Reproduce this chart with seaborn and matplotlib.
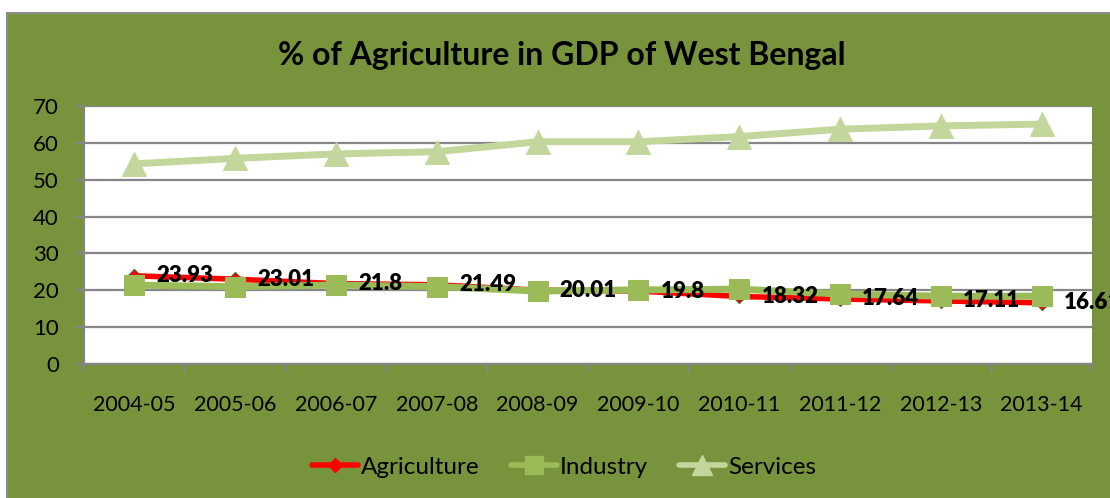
import matplotlib
matplotlib.use("Agg")
import matplotlib.pyplot as plt
from matplotlib.patches import Rectangle
from matplotlib.lines import Line2D
import seaborn as sns
import pandas as pd

years = ["2004-05", "2005-06", "2006-07", "2007-08", "2008-09",
         "2009-10", "2010-11", "2011-12", "2012-13", "2013-14"]
agriculture = [23.93, 23.01, 21.8, 21.49, 20.01, 19.8, 18.32, 17.64, 17.11, 16.61]
industry = [21.4, 21.0, 21.4, 21.0, 19.8, 20.1, 20.3, 19.0, 18.4, 18.4]
services = [54.3, 55.8, 57.0, 57.6, 60.3, 60.3, 61.7, 63.7, 64.6, 65.1]

title = "% of Agriculture in GDP of West Bengal"
series_names = ["Agriculture", "Industry", "Services"]

sns.set_theme(style="white")
plt.rcParams["font.family"] = ["Lato", "DejaVu Sans"]

OLIVE = "#77933C"
RED = "#FF0000"
GREEN = "#9BBB59"
LIGHT = "#C3D69B"
GRID = "#868686"

fig = plt.figure(figsize=(11.10, 4.98), dpi=100, facecolor="white")

# chart frame
fig.patches.append(Rectangle((7 / 1110, -0.1), 1.2, 1 - 13 / 498 + 0.1,
                             transform=fig.transFigure, facecolor=OLIVE,
                             edgecolor="#8C8C8C", linewidth=1.5, zorder=-10))

ax = fig.add_axes([84 / 1110, 1 - 364 / 498, 1008 / 1110, 258 / 498])
ax.set_zorder(1)
ax.set_facecolor("white")

df = pd.DataFrame({"year": years, "Agriculture": agriculture,
                   "Industry": industry, "Services": services})
xpos = list(range(len(years)))

sns.lineplot(x=xpos, y=df["Agriculture"], ax=ax, color=RED, linewidth=4,
             marker="D", markersize=7, markerfacecolor=RED,
             markeredgecolor="#4F6228", markeredgewidth=0.8, zorder=3)
sns.lineplot(x=xpos, y=df["Industry"], ax=ax, color=GREEN, linewidth=5,
             marker="s", markersize=15, markerfacecolor=GREEN,
             markeredgecolor=GREEN, zorder=4)
sns.lineplot(x=xpos, y=df["Services"], ax=ax, color=LIGHT, linewidth=5,
             marker="^", markersize=17, markerfacecolor=LIGHT,
             markeredgecolor=LIGHT, zorder=4)

for x, v in zip(xpos, agriculture):
    ax.annotate(f"{v:g}", (x, v), xytext=(16, 0), textcoords="offset points",
                ha="left", va="center", fontsize=16, fontweight="heavy",
                color="black", zorder=6, annotation_clip=False)

ax.set_xlim(-0.5, len(years) - 0.5)
ax.set_ylim(0, 70)
ax.set_yticks(range(0, 71, 10))
ax.set_xticks(xpos)
ax.set_xticklabels(years)
ax.set_xticks([i - 0.5 for i in range(len(years) + 1)], minor=True)
ax.grid(axis="y", color=GRID, linewidth=1.6, zorder=1)
ax.set_axisbelow(True)
ax.set_xlabel("")
ax.set_ylabel("")

for side in ["top", "right"]:
    ax.spines[side].set_visible(False)
for side in ["left", "bottom"]:
    ax.spines[side].set_visible(True)
    ax.spines[side].set_color(GRID)
    ax.spines[side].set_linewidth(1.6)

ax.tick_params(axis="y", which="major", left=True, length=6, width=1.6,
               color=GRID, pad=12, labelsize=16, labelcolor="black")
ax.tick_params(axis="x", which="major", bottom=False, length=0, pad=22,
               labelsize=15.5, labelcolor="black")
ax.tick_params(axis="x", which="minor", bottom=True, length=6, width=1.6,
               color=GRID)

fig.text(562 / 1110, 1 - 55 / 498, title, ha="center", va="center",
         fontsize=23, fontweight="bold", color="black")

handles = [
    Line2D([], [], color=RED, linewidth=4, marker="D", markersize=7,
           markerfacecolor=RED, markeredgecolor=RED),
    Line2D([], [], color=GREEN, linewidth=4, marker="s", markersize=13,
           markerfacecolor=GREEN, markeredgecolor=GREEN),
    Line2D([], [], color=LIGHT, linewidth=4, marker="^", markersize=14,
           markerfacecolor=LIGHT, markeredgecolor=LIGHT),
]
leg = fig.legend(handles, series_names, loc="center",
                 bbox_to_anchor=(0.508, 1 - 467 / 498), ncol=3, frameon=False,
                 fontsize=17.5, handlelength=1.9, handletextpad=0.1,
                 columnspacing=1.3)
for t in leg.get_texts():
    t.set_color("black")

fig.savefig("out.png", dpi=100, facecolor="white")
